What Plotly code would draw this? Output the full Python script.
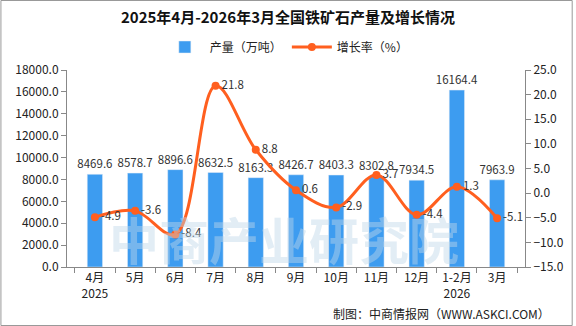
import plotly.graph_objects as go

categories = ["4月<br>2025", "5月", "6月", "7月", "8月", "9月", "10月", "11月", "12月", "1-2月<br>2026", "3月"]
production = [8469.6, 8578.7, 8896.6, 8632.5, 8163.3, 8426.7, 8403.3, 8302.8, 7934.5, 16164.4, 7963.9]
growth = [-4.9, -3.6, -8.4, 21.8, 8.8, 0.6, -2.9, 3.7, -4.4, 1.3, -5.1]

W, H = 576, 326
L, R, T, B = 67, 48, 70, 59
pw, ph = W - L - R, H - T - B

font_cn = "Noto Sans CJK SC"
fig = go.Figure()
fig.add_trace(go.Bar(
    x=categories, y=production, name="产量（万吨）",
    marker_color="#3D9CF0", width=0.38,
    text=[f"{v:.1f}" for v in production], textposition="outside", constraintext="none",
    textfont=dict(size=11.5, color="#333333"), cliponaxis=False,
))
fig.add_trace(go.Scatter(
    x=categories, y=growth, name="增长率（%）", yaxis="y2",
    mode="lines+markers+text", line=dict(color="#FF5F1F", width=3, shape="spline", smoothing=1.0),
    marker=dict(size=8, color="#FF5F1F"),
    text=[f"{v:.1f}" for v in growth], textposition="middle right",
    textfont=dict(size=11.5, color="#333333"), cliponaxis=False,
))

fig.update_layout(
    width=W, height=H,
    margin=dict(l=L, r=R, t=T, b=B),
    paper_bgcolor="white", plot_bgcolor="white",
    font=dict(family=font_cn, size=11, color="#333333"),
    title=dict(text="<b>2025年4月-2026年3月全国铁矿石产量及增长情况</b>", x=0.5, xanchor="center",
               y=1 - 18 / H, yanchor="middle", font=dict(size=15, color="#111111")),
    legend=dict(orientation="h", x=0.48, xanchor="center", y=1 + 23 / ph, yanchor="middle",
                font=dict(size=12, color="#222222"), itemwidth=40, bgcolor="rgba(0,0,0,0)"),
    bargap=0.62,
    showlegend=True,
    xaxis=dict(showline=True, linecolor="#888888", ticks="outside", tickson="boundaries",
               ticklen=5, tickcolor="#888888", tickfont=dict(size=12, color="#222222"), showgrid=False),
    yaxis=dict(range=[0, 18000], dtick=2000, tickformat=".1f", showline=True, linecolor="#888888",
               ticks="outside", ticklen=5, tickcolor="#888888", showgrid=False, zeroline=False,
               tickfont=dict(size=12, color="#222222")),
    yaxis2=dict(range=[-15, 25], dtick=5, tickformat=".1f", overlaying="y", side="right",
                showline=True, linecolor="#888888", ticks="outside", ticklen=5, tickcolor="#888888",
                showgrid=False, zeroline=False, tickfont=dict(size=12, color="#222222")),
)

# watermark text
fig.add_annotation(xref="paper", yref="paper", x=(285 - L) / pw, y=(267 - 238) / ph, text="<b>中商产业研究院</b>",
                   showarrow=False, font=dict(size=50, color="rgba(190,215,232,0.45)", family=font_cn),
                   xanchor="center", yanchor="middle")
# footer
fig.add_annotation(xref="paper", yref="paper", x=(555 - L) / pw, y=-(313 - 267) / ph,
                   text="制图：中商情报网（WWW.ASKCI.COM）", showarrow=False,
                   xanchor="right", yanchor="middle", font=dict(size=12, color="#222222"))
# border
fig.add_shape(type="rect", xref="paper", yref="paper",
              x0=-(L - 0.5) / pw, x1=1 + (R - 0.5) / pw, y0=-(B - 0.5) / ph, y1=1 + (T - 0.5) / ph,
              line=dict(color="#999999", width=1))

fig.write_html("out.html")
